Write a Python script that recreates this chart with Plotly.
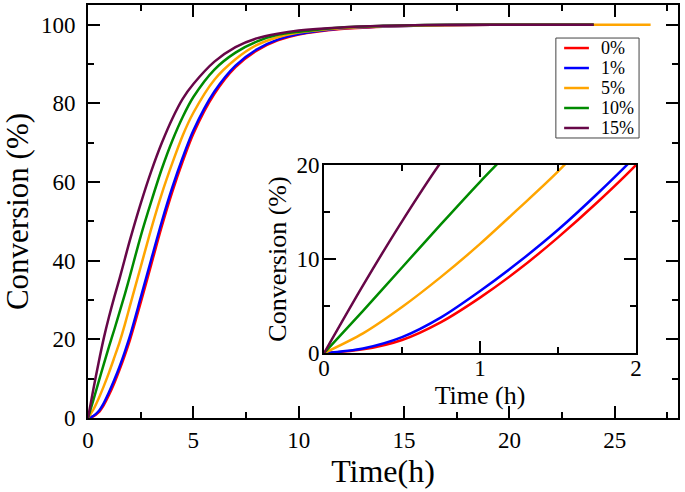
import plotly.graph_objects as go

# time points (h) and conversion (%)
time_h = [0, 0.25, 0.5, 0.75, 1, 1.25, 1.5, 1.75, 2, 2.5, 3, 3.5, 4, 4.5, 5,
          6, 7, 8, 9, 10, 12, 14, 16, 18, 20, 24]
time_5 = time_h + [26.7]

conv_0 = [0, 0.4, 1.4, 3.3, 5.9, 8.9, 12.3, 16.0, 20.0, 29.3, 39.0, 48.7, 57.5, 65.3, 72.3,
          82.4, 89.2, 93.4, 96.0, 97.5, 98.9, 99.5, 99.8, 99.9, 100, 100]
conv_1 = [0, 0.5, 1.7, 3.8, 6.6, 9.7, 13.1, 16.9, 21.0, 30.6, 40.3, 49.9, 58.6, 66.3, 73.1,
          83.0, 89.6, 93.7, 96.2, 97.6, 99.0, 99.5, 99.8, 99.9, 100, 100]
conv_5 = [0, 2.1, 4.9, 8.1, 11.6, 15.4, 19.3, 23.8, 28.7, 38.4, 48.1, 57.0, 64.8, 71.9, 77.6,
          86.0, 91.2, 94.8, 96.8, 98.0, 99.1, 99.6, 99.8, 99.9, 100, 100, 100]
conv_10 = [0, 4.5, 9.1, 13.7, 18.2, 22.5, 27.0, 31.5, 36.3, 46.2, 55.0, 63.3, 70.5, 76.6, 81.6,
           88.6, 92.9, 95.7, 97.4, 98.2, 99.3, 99.7, 99.9, 100, 100, 100]
conv_15 = [0, 7.2, 14.0, 20.3, 25.8, 30.8, 35.5, 40.5, 45.4, 54.5, 62.7, 69.9, 76.1, 81.2, 84.9,
           90.6, 94.3, 96.5, 97.7, 98.5, 99.3, 99.7, 99.9, 100, 100, 100]

labels = ["0%", "1%", "5%", "10%", "15%"]
colors = ["#ff0000", "#0000ff", "#ffa500", "#008b00", "#670748"]
xs = [time_h, time_h, time_5, time_h, time_h]
ys = [conv_0, conv_1, conv_5, conv_10, conv_15]

FONT = "Liberation Serif, Times New Roman, serif"

fig = go.Figure()

# main curves
for x, y, c, name in zip(xs, ys, colors, labels):
    fig.add_trace(go.Scatter(x=x, y=y, mode="lines", name=name, showlegend=False,
                             line=dict(color=c, width=2.5, shape="spline", smoothing=0.8),
                             xaxis="x", yaxis="y"))

# inset (same data, zoomed in)
for x, y, c, name in zip(xs, ys, colors, labels):
    fig.add_trace(go.Scatter(x=x, y=y, mode="lines", name=name, showlegend=False,
                             line=dict(color=c, width=2.5, shape="spline", smoothing=0.8),
                             xaxis="x2", yaxis="y2"))

# legend drawn by hand so it stays compact like the original (grace style box)
leg_x0, leg_x1, leg_top, leg_bot = 0.793, 0.934, 0.920, 0.678
row_step = (leg_top - leg_bot) / 5
fig.add_shape(type="rect", xref="paper", yref="paper", x0=leg_x0, x1=leg_x1,
              y0=leg_bot, y1=leg_top, line=dict(color="#444444", width=1),
              fillcolor="white", layer="above")
for i, (c, name) in enumerate(zip(colors, labels)):
    yy = leg_top - row_step * (i + 0.5)
    fig.add_shape(type="line", xref="paper", yref="paper", x0=0.807, x1=0.849,
                  y0=yy, y1=yy, line=dict(color=c, width=2.5), layer="above")
    fig.add_annotation(xref="paper", yref="paper", x=0.866, y=yy, text=name,
                       showarrow=False, xanchor="left", yanchor="middle",
                       font=dict(family=FONT, size=18, color="black"))

axis_common = dict(showline=True, linecolor="black", linewidth=2, mirror="ticks",
                   ticks="inside", tickcolor="black", tickwidth=1.5, showgrid=False,
                   zeroline=False, automargin=False,
                   tickfont=dict(family=FONT, size=23, color="black"))

fig.update_layout(
    width=685, height=492,
    margin=dict(l=88, r=7, t=5, b=74, autoexpand=False),
    paper_bgcolor="white", plot_bgcolor="white",
    font=dict(family=FONT, color="black"),
    showlegend=False,
    xaxis=dict(axis_common, range=[0, 28], dtick=5, ticklen=12,
               minor=dict(dtick=2.5, ticklen=6, ticks="inside", tickcolor="black"),
               title=dict(text="Time(h)", font=dict(family=FONT, size=32), standoff=0)),
    yaxis=dict(axis_common, range=[0, 105], dtick=20, ticklen=12, ticklabelstandoff=6,
               minor=dict(dtick=10, ticklen=6, ticks="inside", tickcolor="black"),
               title=dict(text="Conversion (%)", font=dict(family=FONT, size=31), standoff=6)),
    xaxis2=dict(axis_common, domain=[0.4, 0.929], anchor="y2", range=[0, 2], dtick=1,
                ticklen=12, ticklabelstandoff=-7,
                minor=dict(dtick=0.5, ticklen=6, ticks="inside", tickcolor="black"),
                title=dict(text="Time (h)", font=dict(family=FONT, size=26), standoff=0)),
    yaxis2=dict(axis_common, domain=[0.157, 0.613], anchor="x2", range=[0, 20], dtick=10,
                ticklen=12, ticklabelstandoff=-2,
                minor=dict(dtick=5, ticklen=6, ticks="inside", tickcolor="black"),
                title=dict(text="Conversion (%)", font=dict(family=FONT, size=26), standoff=2)),
)

# page body has a default 8px margin; drop it so the figure sits at the corner
fig.write_html("out.html", config={"displayModeBar": False},
               post_script="document.body.style.margin='0';")
